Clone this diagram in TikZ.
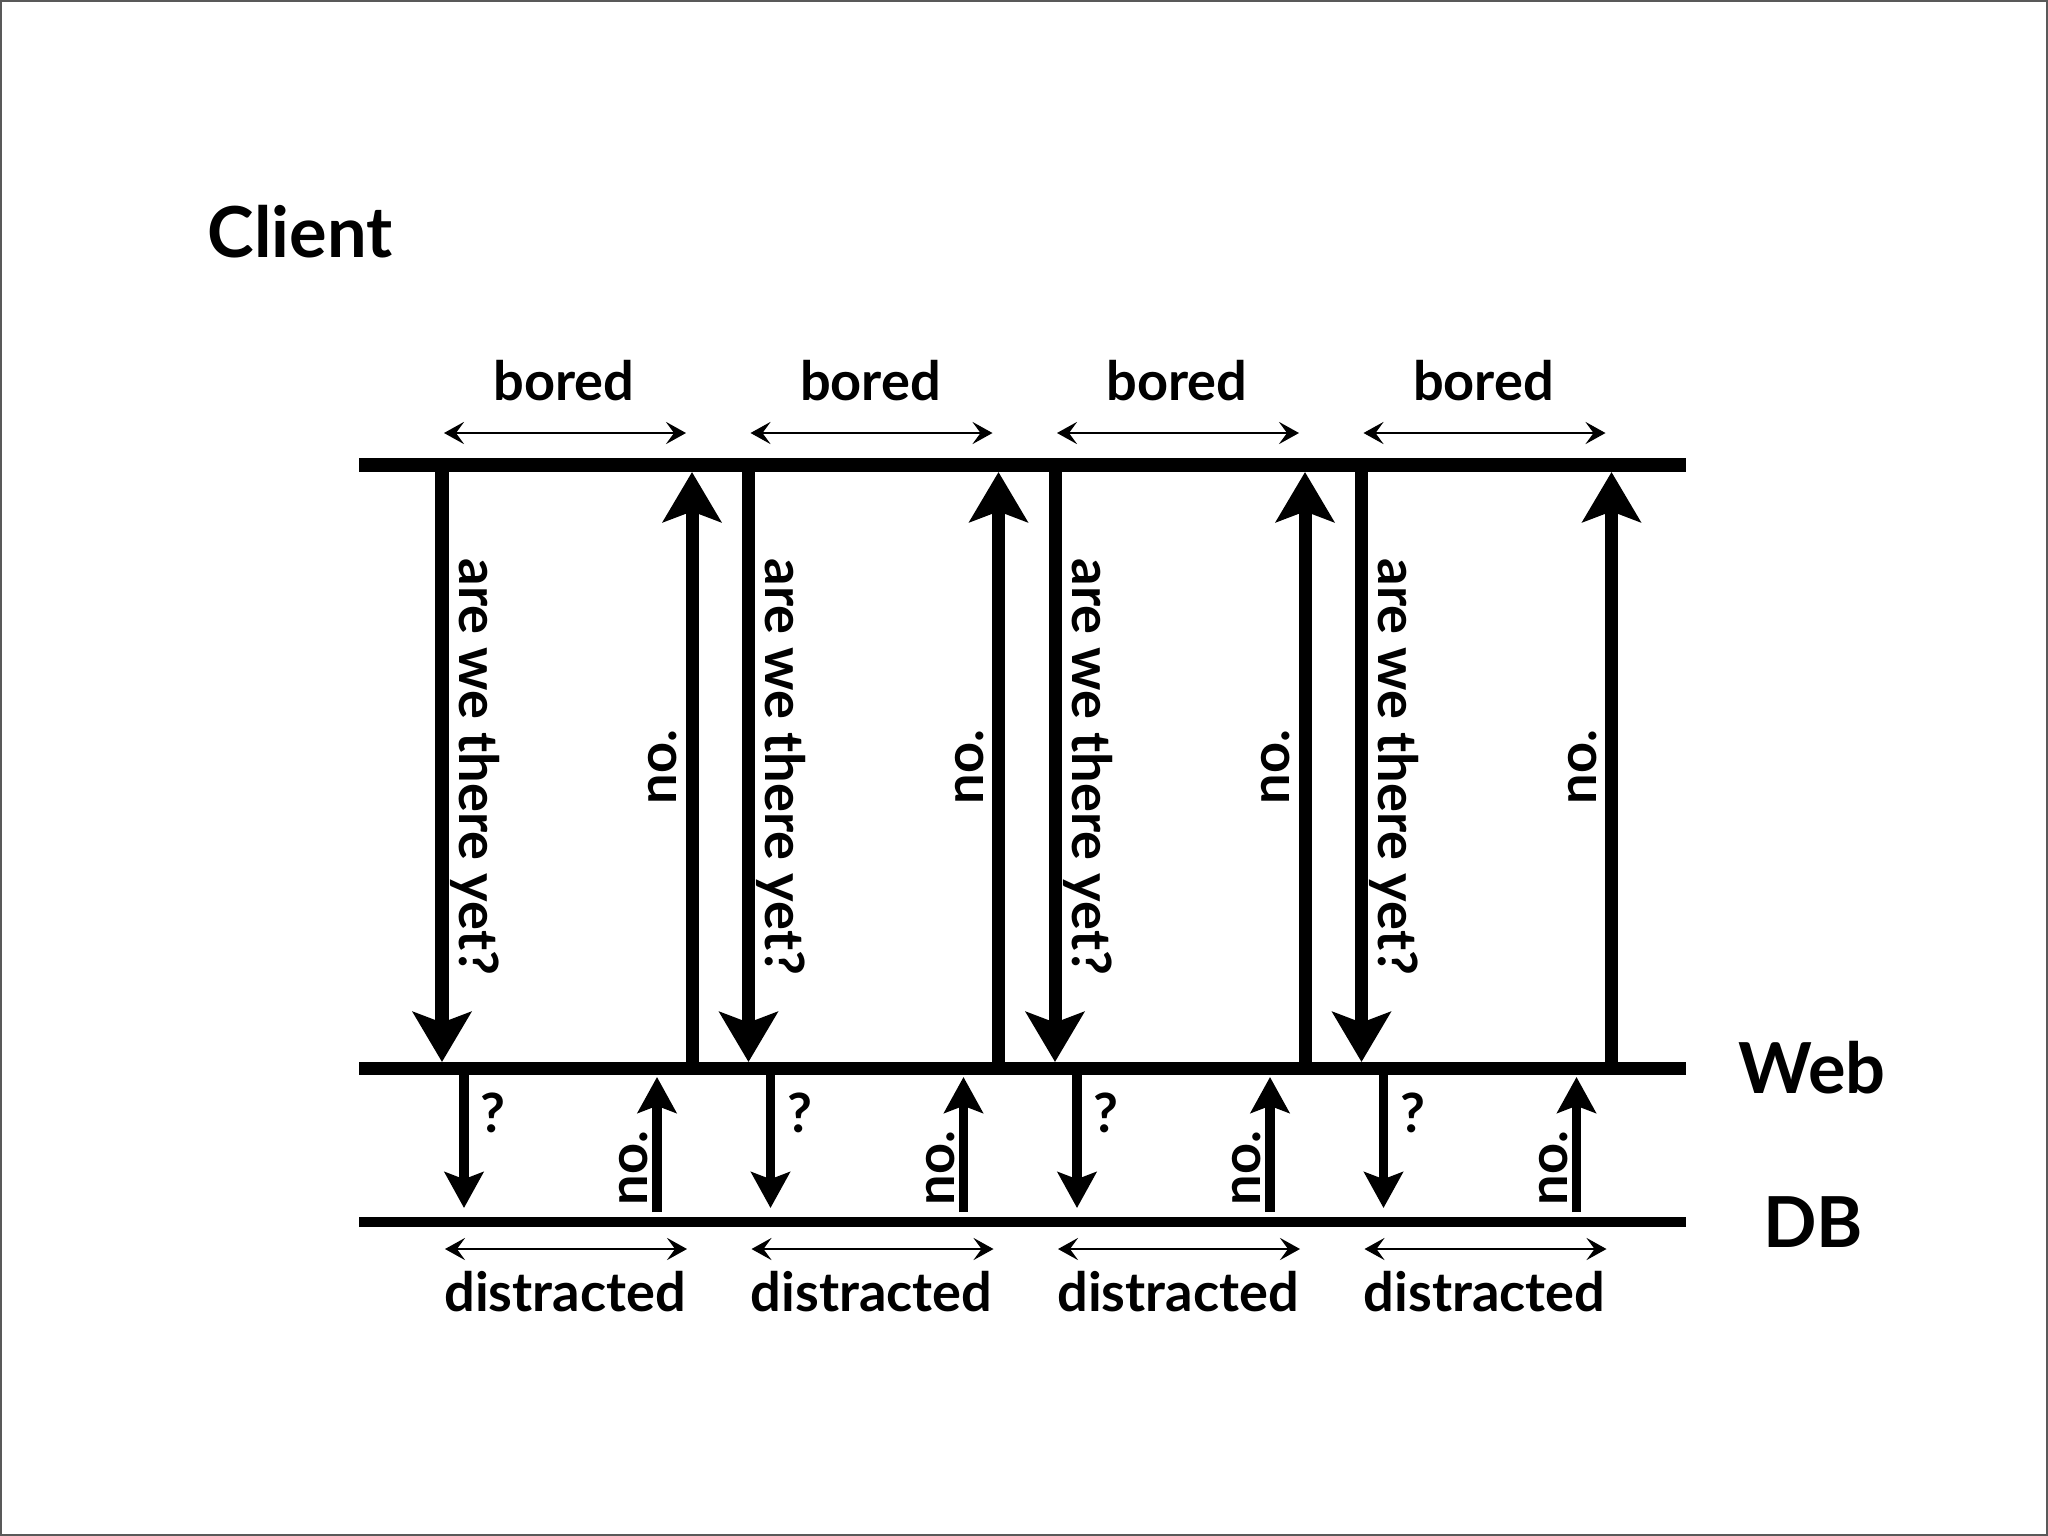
\documentclass[tikz,border=0pt]{standalone}
\usepackage{fontspec}
\setmainfont{Lato}
\usetikzlibrary{arrows.meta}

\begin{document}
\begin{tikzpicture}[
  x=0.01cm, y=-0.01cm,
  tier/.style={draw=black, line cap=butt},
  bigarrow/.style={-{Stealth[length=14.2pt, width=16.5pt, inset=3pt]}, line width=3.7pt},
  smallarrow/.style={-{Stealth[length=10.2pt, width=11pt, inset=2pt]}, line width=2.7pt},
  waitspan/.style={{Stealth[length=5.7pt, width=6.3pt, inset=2.3pt]}-{Stealth[length=5.7pt, width=6.3pt, inset=2.3pt]}, line width=0.7pt},
  tierlabel/.style={font=\fontsize{20}{24}\selectfont\bfseries, inner sep=0pt},
  msg/.style={font=\fontsize{15.4}{19}\selectfont\bfseries, inner sep=0pt}
]
\useasboundingbox (0,0) rectangle (2048,1536);
\draw[draw=black!65, line width=0.6pt] (1,1) rectangle (2047,1535);

% tiers
\coordinate (clientL) at (359,465);
\coordinate (clientR) at (1686,465);
\coordinate (webL) at (359,1068);
\coordinate (webR) at (1686,1068);
\coordinate (dbL) at (359,1222);
\coordinate (dbR) at (1686,1222);

\node[tierlabel, anchor=base west] (client) at (207,257) {Client};
\node[tierlabel] (web) at (1812,1068) {Web};
\node[tierlabel] (db) at (1813,1222) {DB};

% one polling round per column
\foreach \i in {1,...,4} {
  \pgfmathsetmacro{\x}{442+306.5*(\i-1)}
  \coordinate (ask\i) at (\x,465);
  \coordinate (askend\i) at (\x,1062);
  \coordinate (reply\i) at (\x+250,1068);
  \coordinate (replyend\i) at (\x+250,472);
  \coordinate (query\i) at (\x+22,1068);
  \coordinate (queryend\i) at (\x+22,1208);
  \coordinate (result\i) at (\x+215,1212);
  \coordinate (resultend\i) at (\x+215,1077);
  \coordinate (boredL\i) at (\x+2,433);
  \coordinate (boredR\i) at (\x+244,433);
  \coordinate (distL\i) at (\x+3,1249);
  \coordinate (distR\i) at (\x+245,1249);

  \draw[bigarrow] (ask\i) -- (askend\i);
  \draw[bigarrow] (reply\i) -- (replyend\i);
  \draw[smallarrow] (query\i) -- (queryend\i);
  \draw[smallarrow] (result\i) -- (resultend\i);
  \draw[waitspan] (boredL\i) -- (boredR\i);
  \draw[waitspan] (distL\i) -- (distR\i);

  \node[msg] (bored\i) at (\x+122,381) {bored};
  \node[msg] (distracted\i) at (\x+123,1292) {distracted};
  \node[msg, rotate=-90] (askmsg\i) at (\x+33,767) {are we there yet?};
  \node[msg, rotate=90] (replymsg\i) at (\x+221,767) {no.};
  \node[msg] (querymsg\i) at (\x+51,1113) {?};
  \node[msg, rotate=90] (resultmsg\i) at (\x+192,1168) {no.};
}

\draw[tier, line width=4pt] (clientL) -- (clientR);
\draw[tier, line width=3.7pt] (webL) -- (webR);
\draw[tier, line width=2.85pt] (dbL) -- (dbR);

\end{tikzpicture}
\end{document}
